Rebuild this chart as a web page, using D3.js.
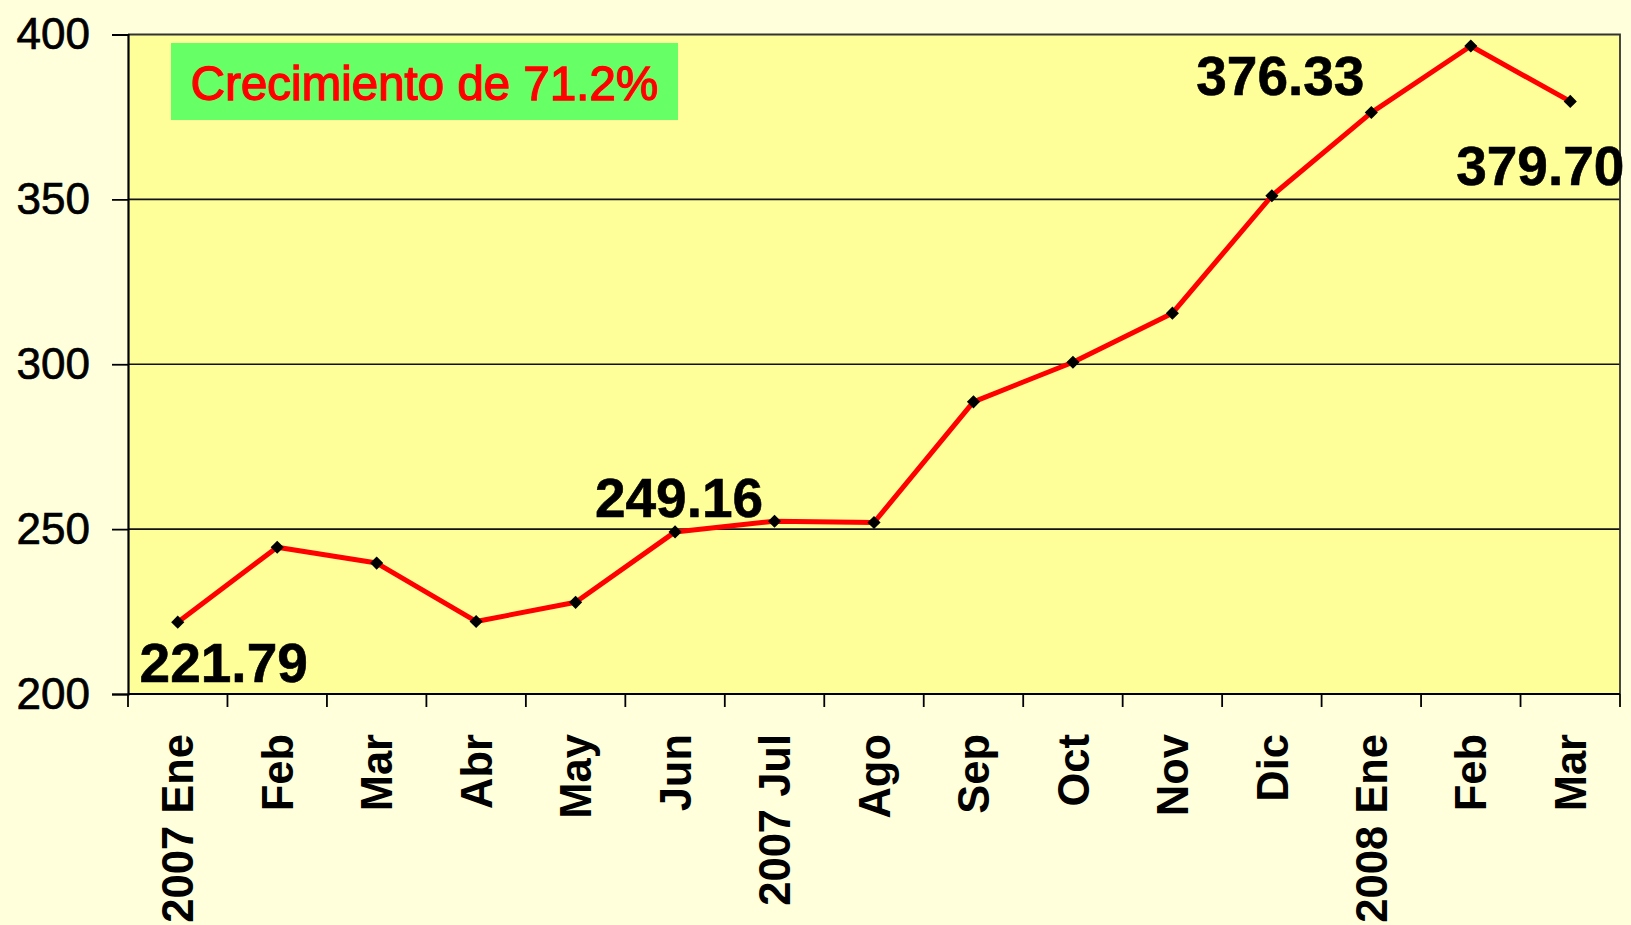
<!DOCTYPE html>
<html>
<head>
<meta charset="utf-8">
<script src="https://cdnjs.cloudflare.com/ajax/libs/d3/7.8.5/d3.min.js"></script>
<style>
  html, body { margin: 0; padding: 0; background: #FFFFDC; }
  svg { display: block; font-family: Arial, "Liberation Sans", sans-serif; }
</style>
</head>
<body>
<div id="chart"></div>
<script>
// chart data
const months = ['2007 Ene','Feb','Mar','Abr','May','Jun','2007 Jul','Ago','Sep','Oct','Nov','Dic','2008 Ene','Feb','Mar'];
const values = [221.79, 244.5, 239.7, 222.0, 227.8, 249.16, 252.4, 252.0, 288.6, 300.6, 315.5, 351.1, 376.33, 396.5, 379.70];
const yTicks = [200, 250, 300, 350, 400];
const labelled = [0, 5, 12, 14];   // points that carry a value label
const title = 'Crecimiento de 71.2%';

const W = 1631, H = 925;
const margin = {left: 128, right: 11, top: 34.5, bottom: 231};
const pw = W - margin.left - margin.right;
const ph = H - margin.top - margin.bottom;

let svg = d3.select('#chart').append('svg')
            .attr('width', W)
            .attr('height', H);

svg.append('rect').attr('width', W).attr('height', H).attr('fill', '#FFFFDC');

let g = svg.append('g').attr('transform', `translate(${margin.left},${margin.top})`);

let x = d3.scaleBand()
          .domain(d3.range(months.length))
          .range([0, pw]);

let y = d3.scaleLinear()
          .domain([200, 400])
          .range([ph, 0]);

// plot area
g.append('rect')
 .attr('width', pw)
 .attr('height', ph)
 .attr('fill', '#FFFF99');

// grid lines
g.selectAll('line.grid').data(yTicks.slice(1, -1))
 .join('line')
 .attr('class', 'grid')
 .attr('x1', 0).attr('x2', pw)
 .attr('y1', d => y(d)).attr('y2', d => y(d))
 .attr('stroke', '#111').attr('stroke-width', 1.6);

// frame top + right
g.append('path')
 .attr('d', `M0,${y(400)}H${pw}V${y(200)}`)
 .attr('fill', 'none')
 .attr('stroke', '#333')
 .attr('stroke-width', 1.8);

// y axis
let yAxis = g.append('g')
             .call(d3.axisLeft(y).tickValues(yTicks).tickSize(16).tickPadding(22));
yAxis.select('.domain').attr('stroke', '#000').attr('stroke-width', 2.2);
yAxis.selectAll('.tick line').attr('stroke', '#000').attr('stroke-width', 1.8);
yAxis.selectAll('.tick text')
     .attr('font-size', 44)
     .attr('fill', '#000')
     .attr('stroke', '#000')
     .attr('stroke-width', 0.7)
     .attr('font-family', 'Arial, "Liberation Sans", sans-serif');

// x axis, ticks sit on the band edges
let bw = x.bandwidth();
let xAxis = g.append('g')
             .attr('transform', `translate(0,${ph})`)
             .call(d3.axisBottom(x).tickSize(13).tickFormat(i => months[i]));
xAxis.select('.domain').attr('stroke', '#000').attr('stroke-width', 2.2).attr('d', `M0,0H${pw}`);
xAxis.selectAll('.tick line')
     .attr('x1', -bw / 2).attr('x2', -bw / 2)
     .attr('stroke', '#000').attr('stroke-width', 1.8);
xAxis.append('line')
     .attr('x1', pw).attr('x2', pw).attr('y1', 0).attr('y2', 13)
     .attr('stroke', '#000').attr('stroke-width', 1.8);
xAxis.selectAll('.tick text')
     .attr('transform', 'rotate(-90)')
     .attr('text-anchor', 'end')
     .attr('x', -40)
     .attr('y', 0)
     .attr('dy', '0.36em')
     .attr('font-size', 43.5)
     .attr('font-weight', 'bold')
     .attr('fill', '#000')
     .attr('font-family', 'Arial, "Liberation Sans", sans-serif');

// line + markers
let line = d3.line()
             .x((d, i) => x(i) + bw / 2)
             .y(d => y(d));

g.append('path')
 .datum(values)
 .attr('d', line)
 .attr('fill', 'none')
 .attr('stroke', '#FF0000')
 .attr('stroke-width', 5)
 .attr('stroke-linejoin', 'round');

g.selectAll('path.marker').data(values)
 .join('path')
 .attr('class', 'marker')
 .attr('d', d3.symbol(d3.symbolDiamond2, 110))
 .attr('transform', (d, i) => `translate(${x(i) + bw / 2},${y(d)})`)
 .attr('fill', '#000');

// value labels (offsets relative to their point)
const labelOffset = {0: [46, 60], 5: [4, -15], 12: [-91, -18], 14: [-30, 84]};
g.selectAll('text.vlabel').data(labelled)
 .join('text')
 .attr('class', 'vlabel')
 .attr('x', i => x(i) + bw / 2 + labelOffset[i][0])
 .attr('y', i => y(values[i]) + labelOffset[i][1])
 .attr('text-anchor', 'middle')
 .attr('font-size', 55)
 .attr('font-weight', 'bold')
 .attr('fill', '#000')
 .attr('stroke', '#000')
 .attr('stroke-width', 0.6)
 .text(i => values[i].toFixed(2));

// title box
let tb = svg.append('g');
tb.append('rect')
  .attr('x', 171).attr('y', 43)
  .attr('width', 507).attr('height', 77)
  .attr('fill', '#66FF66');
tb.append('text')
  .attr('x', 424.5).attr('y', 100)
  .attr('text-anchor', 'middle')
  .attr('font-size', 47.5)
  .attr('fill', '#FF0000')
  .attr('stroke', '#FF0000')
  .attr('stroke-width', 1.3)
  .text(title);
</script>
</body>
</html>
